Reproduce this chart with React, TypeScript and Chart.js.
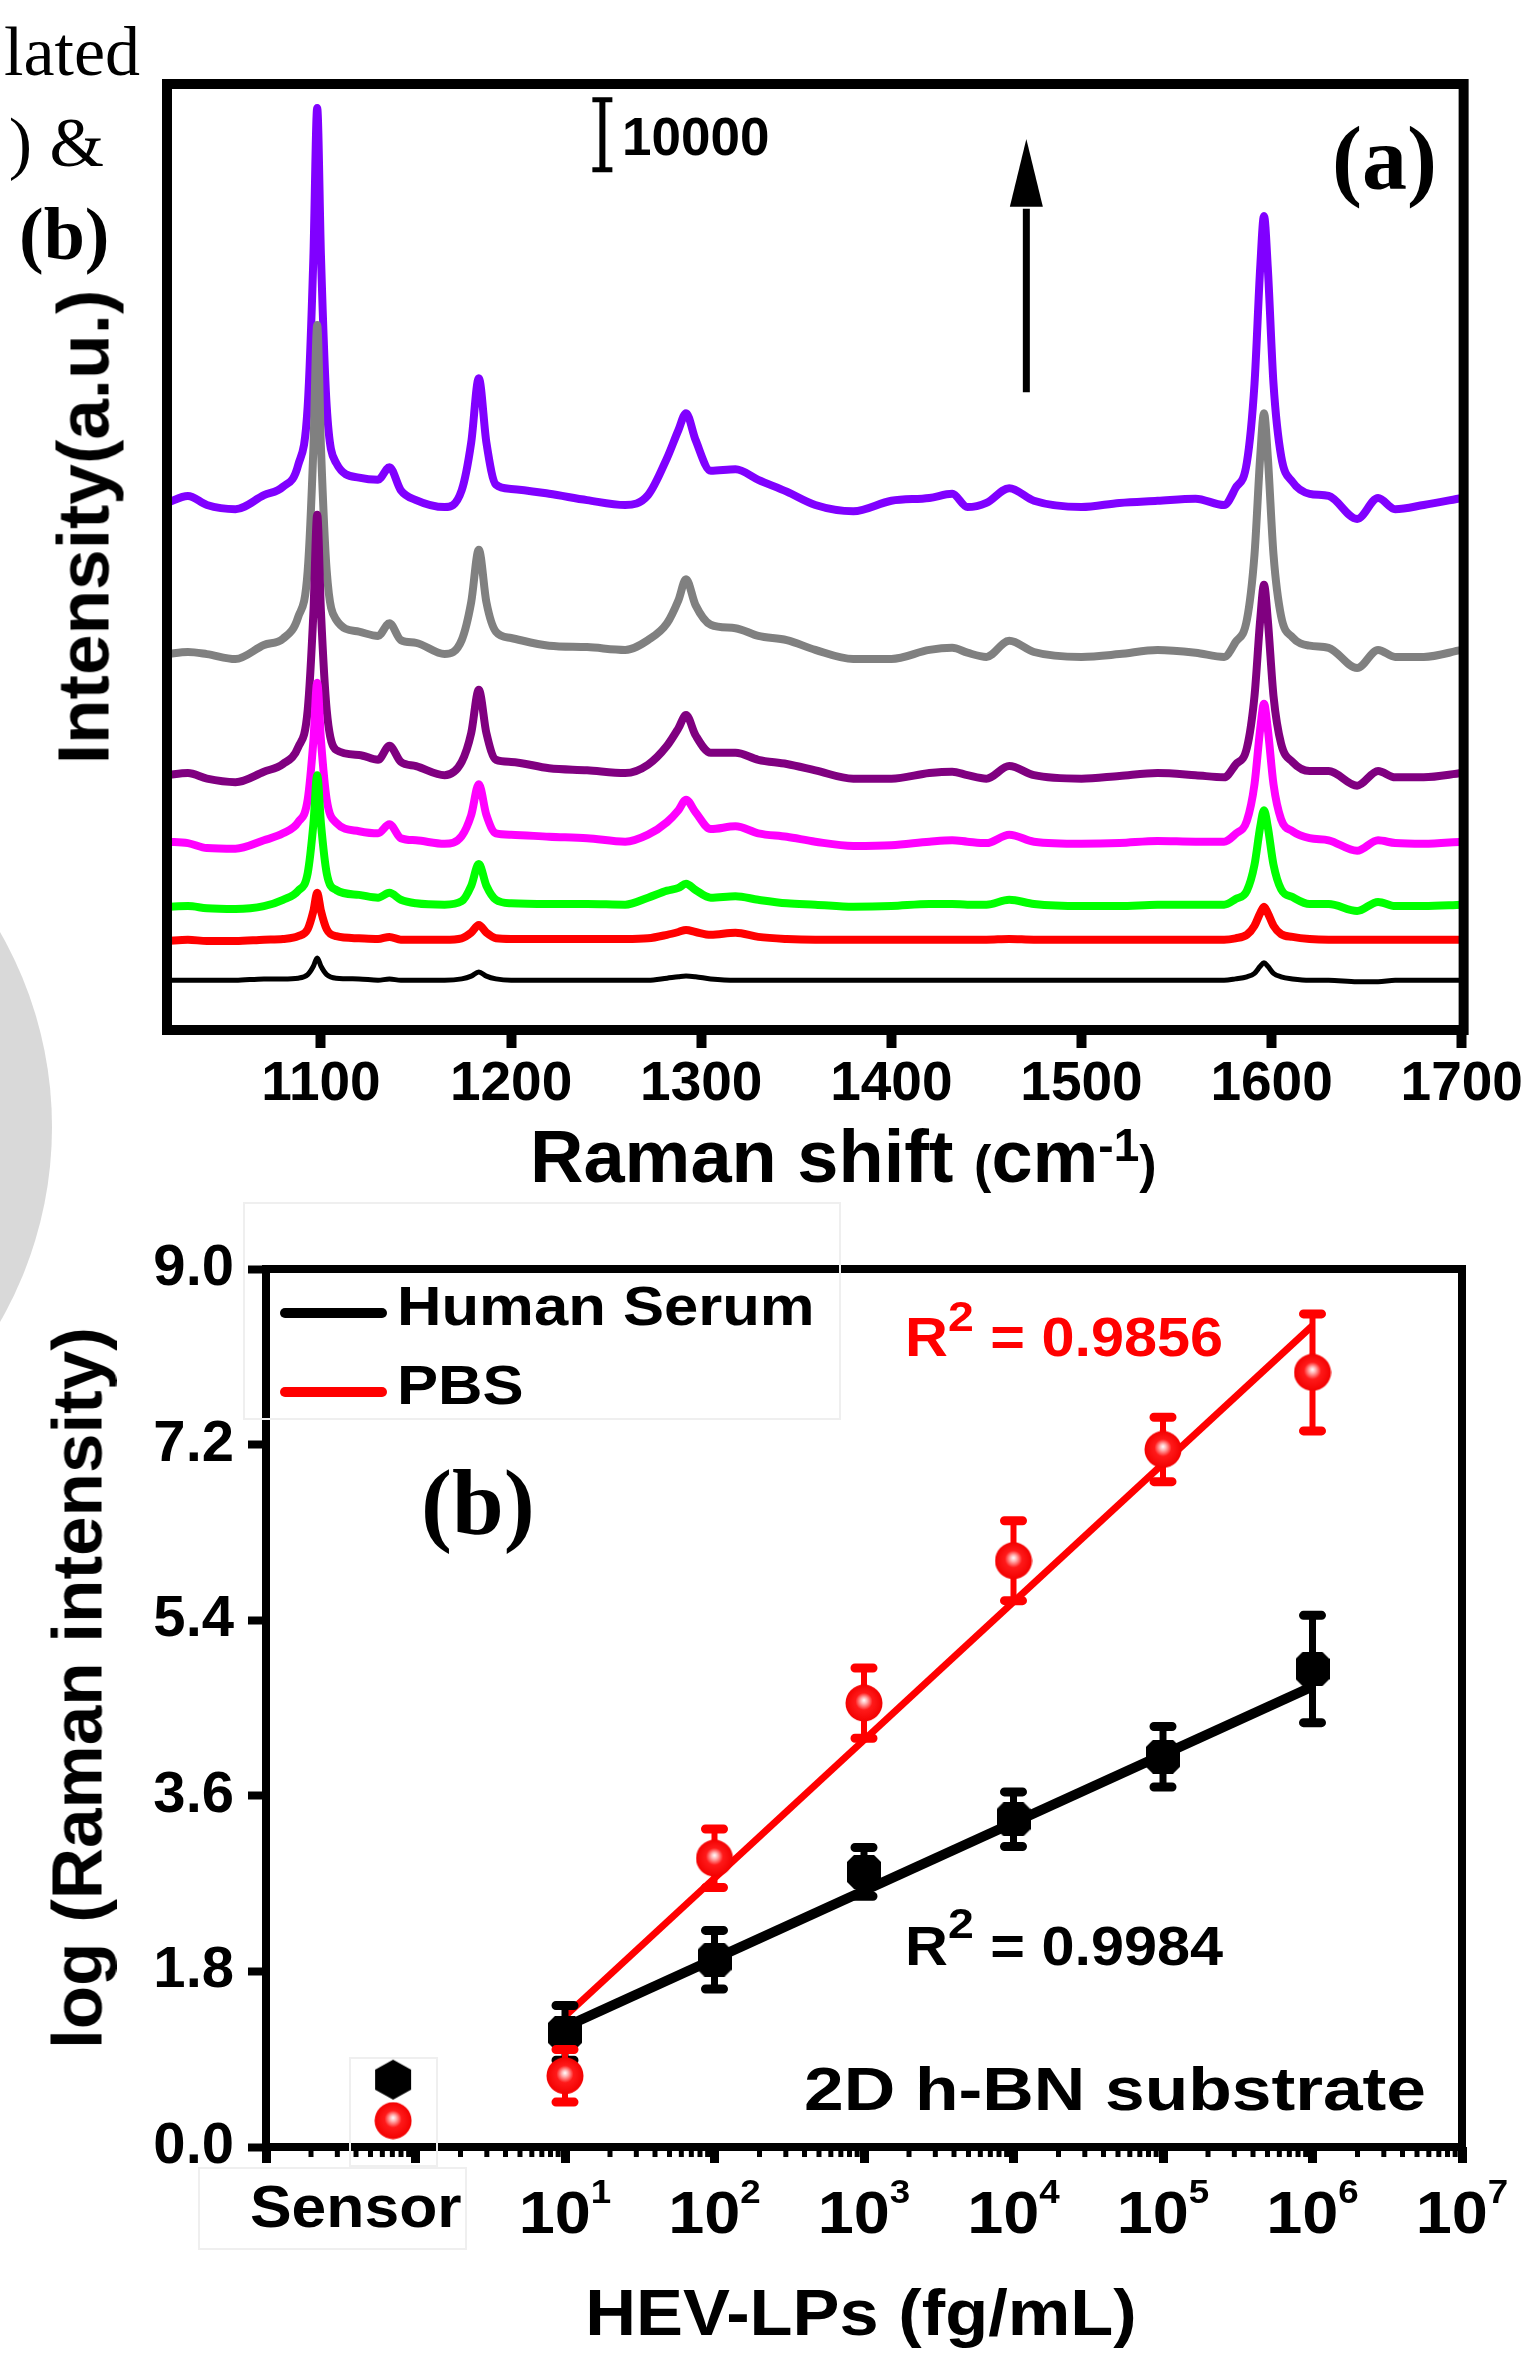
import React, { useEffect, useRef } from 'react';
import { Chart, registerables } from 'chart.js';

Chart.register(...registerables);

const SANS = "'Liberation Sans', Arial, Helvetica, sans-serif";
const SERIF = "'Liberation Serif', 'Times New Roman', Times, serif";

// ---------------- Panel (a): SERS spectra (intensity in thousands of counts, stacked) ----------------
const ramanShift = [1019, 1030, 1040, 1055, 1070, 1080, 1088, 1093, 1096, 1098, 1100, 1103, 1108, 1120, 1130, 1136, 1142, 1150, 1165, 1174, 1179, 1183, 1187, 1192, 1200, 1220, 1240, 1260, 1272, 1282, 1288, 1292, 1297, 1305, 1318, 1330, 1345, 1360, 1380, 1400, 1420, 1432, 1440, 1450, 1462, 1475, 1500, 1520, 1540, 1560, 1575, 1581, 1587, 1591, 1594, 1596, 1598, 1601, 1605, 1611, 1620, 1630, 1645, 1656, 1665, 1680, 1700];

const specBlack = [7.1, 7.1, 7.1, 7.1, 7.3, 7.3, 7.4, 7.9, 9.1, 10.3, 9.1, 7.9, 7.4, 7.3, 7.1, 7.3, 7.1, 7.1, 7.1, 7.3, 7.7, 8.3, 7.7, 7.3, 7.1, 7.1, 7.1, 7.1, 7.1, 7.4, 7.6, 7.7, 7.6, 7.3, 7.1, 7.1, 7.1, 7.1, 7.1, 7.1, 7.1, 7.1, 7.1, 7.1, 7.1, 7.1, 7.1, 7.1, 7.1, 7.1, 7.1, 7.3, 7.6, 8.1, 9.1, 9.6, 9.1, 8.1, 7.6, 7.3, 7.1, 7.1, 6.9, 6.9, 7.1, 7.1, 7.1];
const specRed = [12.7, 12.9, 12.7, 12.7, 12.9, 13.0, 13.4, 14.4, 17.0, 19.6, 17.0, 14.4, 13.4, 13.1, 13.0, 13.3, 12.9, 12.9, 12.9, 13.1, 13.9, 15.0, 13.9, 13.1, 13.0, 13.0, 13.0, 13.0, 13.1, 13.6, 14.0, 14.3, 14.0, 13.6, 13.9, 13.3, 13.0, 12.9, 12.9, 12.9, 12.9, 12.9, 12.9, 12.9, 13.0, 12.9, 12.9, 12.9, 12.9, 12.9, 12.9, 13.1, 13.6, 14.9, 16.7, 17.6, 16.7, 14.9, 13.7, 13.3, 13.0, 12.9, 12.9, 12.9, 12.9, 12.9, 12.9];
const specGreen = [17.6, 17.7, 17.4, 17.3, 17.7, 18.6, 19.9, 22.4, 29.4, 36.4, 29.4, 22.4, 20.0, 19.3, 18.9, 19.6, 18.6, 18.1, 17.9, 18.4, 20.6, 23.7, 20.6, 18.6, 18.1, 18.0, 18.0, 17.9, 18.9, 19.9, 20.3, 20.9, 20.0, 18.9, 19.1, 18.6, 18.1, 17.9, 17.6, 17.7, 18.0, 18.0, 17.9, 17.9, 18.6, 18.0, 17.7, 17.7, 17.9, 17.9, 17.9, 18.7, 19.9, 23.6, 29.0, 31.4, 29.0, 23.6, 20.1, 19.0, 18.0, 18.0, 17.0, 18.3, 17.7, 17.7, 17.9];
const specMagenta = [26.9, 26.7, 26.0, 25.9, 27.1, 28.1, 29.7, 32.9, 41.3, 49.6, 41.3, 32.9, 29.6, 28.4, 28.1, 29.4, 27.4, 27.1, 26.6, 27.7, 30.7, 35.1, 30.7, 28.1, 27.9, 27.6, 27.4, 26.9, 27.9, 29.7, 31.4, 32.9, 31.1, 28.7, 29.1, 28.1, 27.6, 26.9, 26.3, 26.4, 26.9, 27.1, 26.9, 26.7, 27.9, 26.9, 26.6, 26.7, 27.0, 26.9, 26.9, 28.0, 29.9, 35.1, 43.0, 46.6, 43.0, 35.1, 30.1, 28.4, 27.4, 27.1, 25.6, 27.1, 26.7, 26.6, 26.9];
const specPurple = [36.4, 36.7, 35.9, 35.4, 36.9, 38.0, 40.4, 45.7, 59.6, 73.6, 59.6, 45.7, 40.0, 39.3, 38.6, 40.6, 38.3, 37.7, 36.4, 38.3, 42.4, 48.6, 42.4, 38.6, 38.3, 37.4, 37.1, 36.7, 37.9, 40.6, 43.1, 45.0, 42.1, 39.6, 39.6, 38.6, 38.0, 37.1, 35.9, 35.9, 36.7, 36.9, 36.4, 35.9, 37.7, 36.4, 35.9, 36.3, 36.7, 36.4, 36.1, 37.9, 40.3, 47.7, 58.6, 63.6, 58.6, 47.7, 40.9, 38.3, 37.0, 37.0, 34.9, 37.0, 36.1, 36.1, 36.7];
const specGray = [53.7, 54.0, 53.7, 53.0, 55.0, 55.9, 59.0, 65.6, 83.1, 100.7, 83.1, 65.6, 58.6, 56.9, 56.3, 58.1, 55.7, 55.3, 53.7, 55.7, 61.1, 68.6, 61.1, 56.9, 56.0, 54.9, 54.7, 54.3, 55.7, 58.1, 61.4, 64.4, 60.7, 57.9, 57.4, 56.3, 55.7, 54.3, 53.0, 53.0, 54.3, 54.6, 53.9, 53.3, 55.6, 54.0, 53.3, 53.7, 54.3, 53.9, 53.3, 55.4, 58.6, 67.9, 81.9, 88.1, 81.9, 67.9, 59.1, 56.1, 54.9, 54.6, 51.7, 54.3, 53.3, 53.3, 54.3];
const specViolet = [75.3, 76.3, 75.0, 74.4, 76.4, 77.6, 80.7, 89.1, 110.4, 131.7, 110.4, 89.1, 81.0, 78.9, 78.6, 80.4, 77.1, 75.7, 74.7, 77.1, 83.9, 93.1, 83.9, 77.9, 77.3, 76.6, 75.7, 75.0, 76.4, 81.7, 85.7, 88.1, 84.3, 79.9, 80.1, 78.6, 76.9, 75.0, 74.1, 75.6, 76.0, 76.6, 74.7, 75.3, 77.4, 75.6, 74.7, 75.3, 75.6, 75.9, 75.0, 77.4, 81.1, 92.3, 108.9, 116.3, 108.9, 92.3, 82.0, 78.3, 76.6, 76.3, 73.0, 76.0, 74.4, 75.0, 76.0];

const spectraA = [specBlack, specRed, specGreen, specMagenta, specPurple, specGray, specViolet];
const spectraColors = ['#000000', '#ff0000', '#00ff00', '#ff00ff', '#800080', '#808080', '#8000ff'];
const xTicksA = [1100, 1200, 1300, 1400, 1500, 1600, 1700];
const xRangeA = [1019, 1701];
const yRangeA = [0, 135.14];
// scale bar (10000 counts = 10 thousand) and arrow, in data units
const scaleBarX = 1248;
const scaleBarBase = 122.9;
const scaleBarSpan = 10;
const arrowX = 1471;
const arrowTail = 91.1;
const arrowHeadBase = 117.6;
const arrowTip = 127.3;

// ---------------- Panel (b): log(Raman intensity) vs concentration ----------------
const concLabels = ['Sensor', '10¹', '10²', '10³', '10⁴', '10⁵', '10⁶'];
const concLog = [-0.15, 1, 2, 3, 4, 5, 6];
const serumY = [0.69, 1.17, 1.92, 2.82, 3.36, 4.0, 4.9];
const serumErr = [0, 0.28, 0.3, 0.25, 0.28, 0.31, 0.55];
const pbsY = [0.27, 0.73, 2.96, 4.55, 6.01, 7.15, 7.94];
const pbsErr = [0, 0.27, 0.3, 0.36, 0.41, 0.33, 0.6];
const fitX = [1, 6];
const serumFitY = [1.23, 4.72];
const pbsFitY = [1.34, 8.42];
const xTicksB = [-1, 0, 1, 2, 3, 4, 5, 6, 7];
const xLabelExpB = [1, 2, 3, 4, 5, 6, 7];
const minorMultB = [2, 3, 4, 5, 6, 7, 8, 9];
const yTicksB = [0, 1.8, 3.6, 5.4, 7.2, 9.0];

function makeSphere() {
  const c = document.createElement('canvas');
  c.width = 38; c.height = 38;
  const g = c.getContext('2d');
  const grad = g.createRadialGradient(19, 16, 0, 19, 19, 19);
  grad.addColorStop(0, '#ffffff');
  grad.addColorStop(0.16, '#ffb8b8');
  grad.addColorStop(0.45, '#ff1a1a');
  grad.addColorStop(1, '#f20000');
  g.fillStyle = grad;
  g.beginPath(); g.arc(19, 19, 18.5, 0, Math.PI * 2); g.fill();
  return c;
}
function makeHex() {
  const c = document.createElement('canvas');
  c.width = 38; c.height = 42;
  const g = c.getContext('2d');
  g.fillStyle = '#000';
  g.beginPath();
  g.moveTo(19, 1); g.lineTo(37, 11); g.lineTo(37, 31); g.lineTo(19, 41); g.lineTo(1, 31); g.lineTo(1, 11);
  g.closePath(); g.fill();
  return c;
}
function makeOct() {
  const c = document.createElement('canvas');
  c.width = 34; c.height = 34;
  const g = c.getContext('2d');
  g.fillStyle = '#000';
  const k = 7;
  g.beginPath();
  g.moveTo(k, 0); g.lineTo(34 - k, 0); g.lineTo(34, k); g.lineTo(34, 34 - k); g.lineTo(34 - k, 34);
  g.lineTo(k, 34); g.lineTo(0, 34 - k); g.lineTo(0, k); g.closePath(); g.fill();
  return c;
}

const panelAPlugin = {
  id: 'panelA',
  afterDatasetsDraw(chart: any) {
    const { ctx, scales } = chart;
    const x = scales.x, y = scales.y;
    ctx.save();
    ctx.strokeStyle = '#000';
    ctx.fillStyle = '#000';
    const bx = x.getPixelForValue(scaleBarX);
    const b0 = y.getPixelForValue(scaleBarBase);
    const b1 = y.getPixelForValue(scaleBarBase + scaleBarSpan);
    ctx.lineWidth = 6;
    ctx.beginPath(); ctx.moveTo(bx, b0); ctx.lineTo(bx, b1); ctx.stroke();
    ctx.lineWidth = 5;
    ctx.beginPath();
    ctx.moveTo(bx - 10, b0); ctx.lineTo(bx + 10, b0);
    ctx.moveTo(bx - 10, b1); ctx.lineTo(bx + 10, b1);
    ctx.stroke();
    const ax = x.getPixelForValue(arrowX);
    const aT = y.getPixelForValue(arrowTail);
    const aB = y.getPixelForValue(arrowHeadBase);
    const aP = y.getPixelForValue(arrowTip);
    ctx.lineWidth = 7;
    ctx.beginPath(); ctx.moveTo(ax, aT); ctx.lineTo(ax, aB + 2); ctx.stroke();
    ctx.beginPath(); ctx.moveTo(ax - 16.5, aB); ctx.lineTo(ax + 16.5, aB); ctx.lineTo(ax, aP); ctx.closePath(); ctx.fill();
    ctx.restore();
  },
  afterDraw(chart: any) {
    const { ctx, chartArea: a } = chart;
    ctx.save();
    ctx.strokeStyle = '#000';
    ctx.lineWidth = 10;
    ctx.strokeRect(a.left, a.top, a.right - a.left, a.bottom - a.top);
    ctx.restore();
  },
};

const panelBPlugin = {
  id: 'panelB',
  beforeDatasetsDraw(chart: any) {
    const { ctx, chartArea: a } = chart;
    ctx.save();
    ctx.strokeStyle = '#000';
    ctx.lineWidth = 8;
    ctx.strokeRect(a.left, a.top, a.right - a.left, a.bottom - a.top);
    ctx.restore();
  },
  beforeDatasetDraw(chart: any, args: any) {
    const ds = chart.data.datasets[args.index];
    if (!ds.errs) return;
    const { ctx, scales } = chart;
    const x = scales.x, y = scales.y;
    ctx.save();
    ctx.strokeStyle = ds.errColor;
    ds.data.forEach((p: any, i: number) => {
      const e = ds.errs[i];
      if (!e) return;
      const px = x.getPixelForValue(p.x);
      const top = y.getPixelForValue(p.y + e);
      const bot = y.getPixelForValue(p.y - e);
      ctx.lineCap = 'butt';
      ctx.lineWidth = ds.errWidth;
      ctx.beginPath(); ctx.moveTo(px, top); ctx.lineTo(px, bot); ctx.stroke();
      ctx.lineCap = 'round';
      ctx.lineWidth = 9;
      ctx.beginPath();
      ctx.moveTo(px - 9, top); ctx.lineTo(px + 9, top);
      ctx.moveTo(px - 9, bot); ctx.lineTo(px + 9, bot);
      ctx.stroke();
    });
    ctx.restore();
  },
  afterDraw(chart: any) {
    const { ctx, chartArea: a, scales } = chart;
    const x = scales.x;
    ctx.save();
    ctx.strokeStyle = '#000';
    ctx.lineWidth = 5;
    ctx.beginPath();
    for (let k = xTicksB[0]; k < xTicksB[xTicksB.length - 1]; k++) {
      minorMultB.forEach((m) => {
        const px = x.getPixelForValue(k + Math.log10(m));
        ctx.moveTo(px, a.bottom); ctx.lineTo(px, a.bottom + 10);
      });
    }
    ctx.stroke();
    // 10^k labels
    const sx = 1.08;
    ctx.fillStyle = '#000';
    ctx.textBaseline = 'alphabetic';
    ctx.textAlign = 'left';
    xLabelExpB.forEach((k) => {
      const px = x.getPixelForValue(k);
      ctx.font = `bold 60px ${SANS}`;
      const w10 = ctx.measureText('10').width;
      ctx.font = `bold 34px ${SANS}`;
      const ws = ctx.measureText(String(k)).width;
      const total = (w10 + ws) * sx;
      ctx.save();
      ctx.translate(px - total / 2, a.bottom + 86);
      ctx.scale(sx, 1);
      ctx.font = `bold 60px ${SANS}`;
      ctx.fillText('10', 0, 0);
      ctx.font = `bold 34px ${SANS}`;
      ctx.fillText(String(k), w10, -30);
      ctx.restore();
    });
    ctx.restore();
  },
};

type TP = {
  x: number; y: number; size: number; serif?: boolean; bold?: boolean; color?: string;
  anchor?: 'left' | 'center' | 'right'; sx?: number; children: any;
};
function T({ x, y, size, serif = false, bold = true, color = '#000', anchor = 'left', sx = 1, children }: TP) {
  const asc = serif ? 0.8375 : 0.8465;
  const style: any = {
    position: 'absolute', top: y - asc * size, fontSize: size, lineHeight: 1, whiteSpace: 'nowrap',
    fontFamily: serif ? SERIF : SANS, fontWeight: bold ? 700 : 400, color,
  };
  if (anchor === 'left') {
    style.left = x; style.transformOrigin = 'left center'; style.transform = `scaleX(${sx})`;
  } else if (anchor === 'center') {
    style.left = x; style.transformOrigin = 'center center'; style.transform = `translateX(-50%) scaleX(${sx})`;
  } else {
    style.right = 1532 - x; style.transformOrigin = 'right center'; style.transform = `scaleX(${sx})`;
  }
  return <div style={style}>{children}</div>;
}
function RT({ cx, cy, size, children }: any) {
  return (
    <div style={{
      position: 'absolute', left: cx, top: cy, transform: 'translate(-50%, -50%) rotate(-90deg)',
      fontSize: size, lineHeight: 1, fontFamily: SANS, fontWeight: 700, whiteSpace: 'nowrap', color: '#000',
    }}>{children}</div>
  );
}
function Box({ l, t, w, h }: any) {
  return <div style={{ position: 'absolute', left: l, top: t, width: w, height: h, border: '2px solid #efefef', boxSizing: 'border-box' }} />;
}

export default function App() {
  const refA = useRef<HTMLCanvasElement>(null);
  const refB = useRef<HTMLCanvasElement>(null);

  useEffect(() => {
    document.body.style.margin = '0';
    Chart.defaults.font.family = SANS;
    Chart.defaults.color = '#000';

    const chartA = new Chart(refA.current as HTMLCanvasElement, {
      type: 'scatter',
      data: {
        datasets: spectraA.map((s, i) => ({
          label: `spectrum ${i}`,
          data: ramanShift.map((v, j) => ({ x: v, y: s[j] })),
          showLine: true,
          borderColor: spectraColors[i],
          backgroundColor: spectraColors[i],
          borderWidth: i === 0 ? 5 : 8,
          pointRadius: 0,
          cubicInterpolationMode: 'monotone',
          borderJoinStyle: 'round',
          order: i,
        })),
      },
      options: {
        animation: false,
        responsive: false,
        devicePixelRatio: 1,
        events: [],
        layout: { padding: { left: 167, top: 84, right: 68, bottom: 0 } },
        plugins: { legend: { display: false }, tooltip: { enabled: false } },
        scales: {
          x: {
            type: 'linear', min: xRangeA[0], max: xRangeA[1],
            afterBuildTicks: (s: any) => { s.ticks = xTicksA.map((v) => ({ value: v })); },
            afterFit: (s: any) => { s.height = 110; },
            border: { display: false },
            grid: { drawOnChartArea: false, drawTicks: true, tickLength: 18, tickWidth: 10, tickColor: '#000' },
            ticks: {
              autoSkip: false, maxRotation: 0, padding: 9, color: '#000',
              font: { family: SANS, size: 55, weight: 'bold', lineHeight: 1 },
              callback: (v: any) => String(v),
            },
          },
          y: { type: 'linear', display: false, min: yRangeA[0], max: yRangeA[1] },
        },
      } as any,
      plugins: [panelAPlugin],
    } as any);

    const sphere = makeSphere();
    const hex = makeHex();
    const oct = makeOct();

    const chartB = new Chart(refB.current as HTMLCanvasElement, {
      type: 'scatter',
      data: {
        datasets: [
          {
            label: 'PBS',
            data: concLog.map((v, i) => ({ x: v, y: pbsY[i] })),
            pointStyle: sphere, pointRadius: 18,
            errs: pbsErr, errColor: '#ff0000', errWidth: 6,
            order: 0,
          },
          {
            label: 'Human Serum',
            data: concLog.map((v, i) => ({ x: v, y: serumY[i] })),
            pointStyle: concLabels.map((c) => (c === 'Sensor' ? hex : oct)), pointRadius: 18,
            errs: serumErr, errColor: '#000000', errWidth: 7,
            order: 1,
          },
          {
            label: 'PBS fit',
            data: fitX.map((v, i) => ({ x: v, y: pbsFitY[i] })),
            showLine: true, borderColor: '#ff0000', borderWidth: 7, pointRadius: 0,
            order: 2,
          },
          {
            label: 'Human Serum fit',
            data: fitX.map((v, i) => ({ x: v, y: serumFitY[i] })),
            showLine: true, borderColor: '#000000', borderWidth: 10, pointRadius: 0,
            order: 3,
          },
        ],
      },
      options: {
        animation: false,
        responsive: false,
        devicePixelRatio: 1,
        events: [],
        layout: { padding: { left: 0, top: 119, right: 70, bottom: 0 } },
        plugins: { legend: { display: false }, tooltip: { enabled: false } },
        scales: {
          x: {
            type: 'linear', min: xTicksB[0], max: xTicksB[xTicksB.length - 1],
            afterBuildTicks: (s: any) => { s.ticks = xTicksB.map((v) => ({ value: v })); },
            afterFit: (s: any) => { s.height = 207; },
            border: { display: false },
            grid: { drawOnChartArea: false, drawTicks: true, tickLength: 16, tickWidth: 9, tickColor: '#000' },
            ticks: { display: false },
          },
          y: {
            type: 'linear', min: yTicksB[0], max: yTicksB[yTicksB.length - 1],
            afterBuildTicks: (s: any) => { s.ticks = yTicksB.map((v) => ({ value: v })); },
            afterFit: (s: any) => { s.width = 266; },
            border: { display: false },
            grid: { drawOnChartArea: false, drawTicks: true, tickLength: 18, tickWidth: 8, tickColor: '#000' },
            ticks: {
              padding: 14, color: '#000',
              font: { family: SANS, size: 58, weight: 'bold', lineHeight: 1 },
              callback: (v: any) => Number(v).toFixed(1),
            },
          },
        },
      } as any,
      plugins: [panelBPlugin],
    } as any);

    return () => {
      chartA.destroy();
      chartB.destroy();
    };
  }, []);

  const sup = (txt: string, size: number, raise: number) => (
    <span style={{ fontSize: size, position: 'relative', top: -raise }}>{txt}</span>
  );

  return (
    <div style={{ position: 'relative', width: 1532, height: 2354, overflow: 'hidden', background: '#fff' }}>
      <div style={{ position: 'absolute', left: -340 - 392, top: 1127 - 392, width: 784, height: 784, borderRadius: '50%', background: '#d9d9d9' }} />
      <canvas ref={refA} width={1532} height={1140} style={{ position: 'absolute', left: 0, top: 0 }} />
      <canvas ref={refB} width={1532} height={1204} style={{ position: 'absolute', left: 0, top: 1150 }} />

      {/* fragments of neighbouring panel text */}
      <T x={140} y={76} size={70} serif bold={false} anchor="right">lated</T>
      <T x={104} y={167} size={70} serif bold={false} anchor="right">{') &'}</T>
      <T x={19} y={259} size={74} serif>(b)</T>

      {/* panel (a) */}
      <RT cx={83} cy={527} size={73}>Intensity(a.u.)</RT>
      <T x={622} y={155} size={53}>10000</T>
      <T x={1332} y={189} size={90} serif>(a)</T>
      <T x={530} y={1183} size={74}>
        {'Raman shift '}
        <span style={{ fontSize: 52 }}>(</span>cm{sup('-1', 46, 21)}<span style={{ fontSize: 52 }}>)</span>
      </T>

      {/* panel (b) */}
      <RT cx={77} cy={1688} size={71}>log (Raman intensity)</RT>
      <Box l={243} t={1202} w={598} h={218} />
      <div style={{ position: 'absolute', left: 280, top: 1308, width: 107, height: 10, borderRadius: 5, background: '#000' }} />
      <div style={{ position: 'absolute', left: 280, top: 1387, width: 107, height: 10, borderRadius: 5, background: '#ff0000' }} />
      <T x={397} y={1326} size={55} sx={1.12}>Human Serum</T>
      <T x={397} y={1405} size={55} sx={1.12}>PBS</T>
      <T x={421} y={1534} size={93} serif>(b)</T>
      <T x={905} y={1357} size={55} sx={1.08} color="#ff0000">R{sup('2', 43, 25)} = 0.9856</T>
      <T x={905} y={1966} size={55} sx={1.08}>R{sup('2', 43, 27)} = 0.9984</T>
      <T x={804} y={2110} size={62} sx={1.15}>2D h-BN substrate</T>
      <Box l={349} t={2057} w={89} h={110} />
      <Box l={198} t={2167} w={269} h={83} />
      <T x={250} y={2228} size={60} sx={1.04}>{concLabels[0]}</T>
      <T x={861} y={2335} size={64} anchor="center" sx={1.1}>HEV-LPs (fg/mL)</T>
    </div>
  );
}
